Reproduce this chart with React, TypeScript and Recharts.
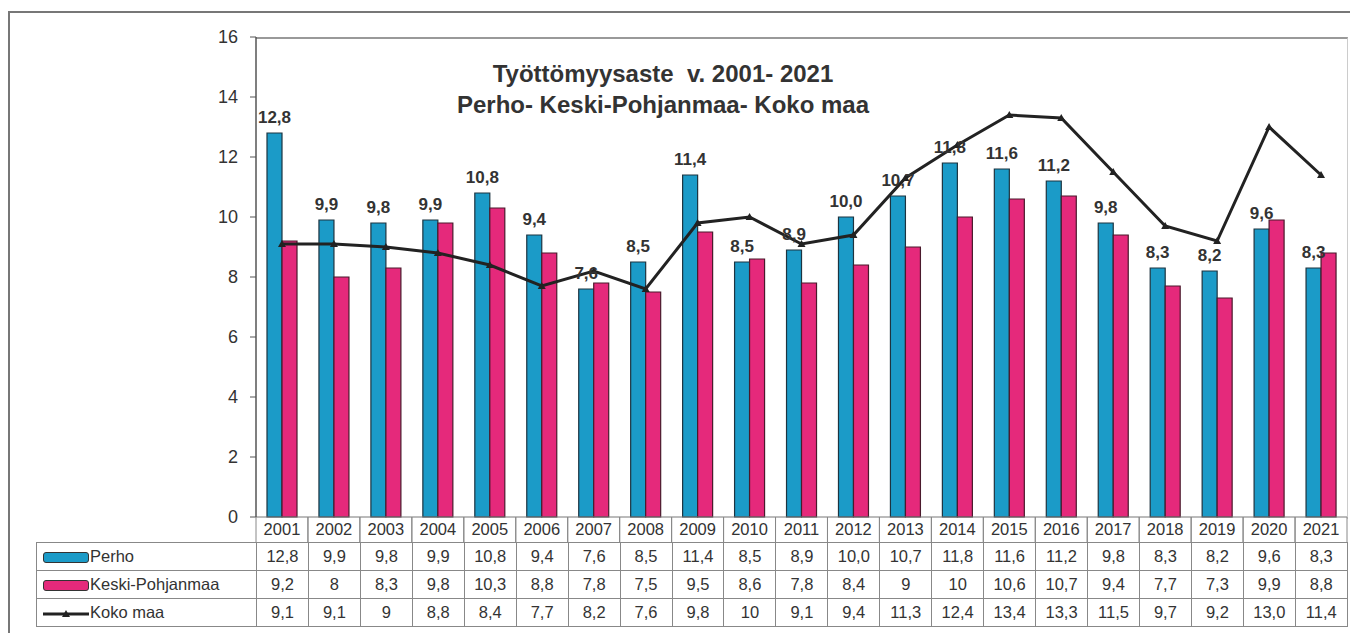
import { ComposedChart, Bar, Line, XAxis, YAxis, LabelList } from "recharts";

const years = ["2001", "2002", "2003", "2004", "2005", "2006", "2007", "2008", "2009", "2010", "2011",
  "2012", "2013", "2014", "2015", "2016", "2017", "2018", "2019", "2020", "2021"];
// values as printed in the data table
const perhoText = ["12,8", "9,9", "9,8", "9,9", "10,8", "9,4", "7,6", "8,5", "11,4", "8,5", "8,9",
  "10,0", "10,7", "11,8", "11,6", "11,2", "9,8", "8,3", "8,2", "9,6", "8,3"];
const keskiText = ["9,2", "8", "8,3", "9,8", "10,3", "8,8", "7,8", "7,5", "9,5", "8,6", "7,8",
  "8,4", "9", "10", "10,6", "10,7", "9,4", "7,7", "7,3", "9,9", "8,8"];
const kokoText = ["9,1", "9,1", "9", "8,8", "8,4", "7,7", "8,2", "7,6", "9,8", "10", "9,1",
  "9,4", "11,3", "12,4", "13,4", "13,3", "11,5", "9,7", "9,2", "13,0", "11,4"];
const yTicks = [0, 2, 4, 6, 8, 10, 12, 14, 16];

const num = (s: string) => parseFloat(s.replace(",", "."));
const data = years.map((year, i) => ({
  year,
  perho: num(perhoText[i]),
  keski: num(keskiText[i]),
  koko: num(kokoText[i]),
}));

const BLUE = "#1b9bc8";
const PINK = "#e5297b";
const TXT = "#333";
const FONT = "Arial, 'Liberation Sans', sans-serif";

const PLOT_L = 256;
const PLOT_R = 1347;
const PLOT_T = 37;
const PLOT_B = 517;
const COL_W = (PLOT_R - PLOT_L) / years.length;

const YearTick = (props: any) => {
  const { x, y, payload } = props;
  return (
    <g>
      <line x1={x - COL_W / 2} x2={x - COL_W / 2} y1={y} y2={y + 25} stroke="#888" />
      <line x1={x + COL_W / 2} x2={x + COL_W / 2} y1={y} y2={y + 25} stroke="#888" />
      <text x={x} y={y + 18} textAnchor="middle" fontSize={16.5} fill={TXT} fontFamily={FONT}>
        {payload.value}
      </text>
    </g>
  );
};

const TriDot = (props: any) => {
  const { cx, cy } = props;
  if (cx == null || cy == null) return null;
  return <path d={`M${cx - 4},${cy + 3} L${cx + 4},${cy + 3} L${cx},${cy - 4} Z`} fill="#222" />;
};

const rows = [
  { name: "Perho", values: perhoText, key: "bar", color: BLUE },
  { name: "Keski-Pohjanmaa", values: keskiText, key: "bar", color: PINK },
  { name: "Koko maa", values: kokoText, key: "line", color: "#222" },
];

export default function App() {
  return (
    <div style={{ position: "absolute", left: 0, top: 0, width: 1350, height: 633, background: "#fff", overflow: "hidden", fontFamily: FONT }}>
      <div style={{ position: "absolute", left: 8, top: 11, width: 1400, height: 700, border: "2px solid #777" }} />
      <div style={{ position: "absolute", left: PLOT_L, top: PLOT_T, width: PLOT_R - PLOT_L, height: PLOT_B - PLOT_T, borderTop: "2px solid #999", borderRight: "1px solid #ccc" }} />
      <div style={{ position: "absolute", left: 663, top: 58, transform: "translateX(-50%)", whiteSpace: "pre", fontWeight: "bold", fontSize: 24, color: TXT, lineHeight: "31px", textAlign: "center" }}>
        {"Työttömyysaste  v. 2001- 2021\nPerho- Keski-Pohjanmaa- Koko maa"}
      </div>
      <div style={{ position: "absolute", left: 0, top: 0 }}>
        <ComposedChart
          width={1350}
          height={633}
          data={data}
          margin={{ top: PLOT_T, right: 1350 - PLOT_R, bottom: 633 - PLOT_B - 25, left: PLOT_L - 80 }}
          barGap={0}
          barSize={15}
        >
          <XAxis dataKey="year" height={25} tickLine={false} tickSize={0} tickMargin={0} axisLine={{ stroke: "#777" }} tick={<YearTick />} interval={0} />
          <YAxis
            width={80}
            domain={[0, 16]}
            ticks={yTicks}
            tickSize={6}
            tickMargin={12}
            axisLine={{ stroke: "#555", strokeWidth: 1.5 }}
            tickLine={{ stroke: "#555" }}
            tick={{ fontSize: 18, fill: TXT, fontFamily: FONT }}
          />
          <Bar dataKey="perho" fill={BLUE} stroke="#1d3440" strokeWidth={1.2} isAnimationActive={false}>
            <LabelList dataKey="perho" position="top" offset={10} formatter={(v: any) => Number(v).toFixed(1).replace(".", ",")} style={{ fontSize: 17, fontWeight: "bold", fill: TXT, fontFamily: FONT }} />
          </Bar>
          <Bar dataKey="keski" fill={PINK} stroke="#4a1a2c" strokeWidth={1.2} isAnimationActive={false} />
          <Line dataKey="koko" stroke="#222" strokeWidth={3} dot={<TriDot />} activeDot={false} isAnimationActive={false} type="linear" />
        </ComposedChart>
      </div>
      <table
        style={{
          position: "absolute",
          left: 36,
          top: PLOT_B + 25,
          borderCollapse: "collapse",
          tableLayout: "fixed",
          width: PLOT_R - 36,
          fontSize: 16.5,
          color: TXT,
          fontFamily: FONT,
        }}
      >
        <colgroup>
          <col style={{ width: PLOT_L - 36 }} />
          {years.map((y) => (
            <col key={y} style={{ width: COL_W }} />
          ))}
        </colgroup>
        <tbody>
          {rows.map((r) => (
            <tr key={r.name} style={{ height: 28 }}>
              <td style={{ border: "1px solid #888", padding: "0 0 0 6px", whiteSpace: "nowrap" }}>
                {r.key === "bar" ? (
                  <span style={{ display: "inline-block", width: 44, height: 9, background: r.color, border: "1.5px solid #333", borderRadius: 3, verticalAlign: "middle", marginRight: 1 }} />
                ) : (
                  <svg width={46} height={10} style={{ verticalAlign: "middle", marginRight: 1 }}>
                    <line x1={0} x2={46} y1={5} y2={5} stroke="#222" strokeWidth={3} />
                    <path d="M19,8 L27,8 L23,1 Z" fill="#222" />
                  </svg>
                )}
                {r.name}
              </td>
              {r.values.map((v, i) => (
                <td key={i} style={{ border: "1px solid #888", textAlign: "center", padding: 0 }}>
                  {v}
                </td>
              ))}
            </tr>
          ))}
        </tbody>
      </table>
    </div>
  );
}
